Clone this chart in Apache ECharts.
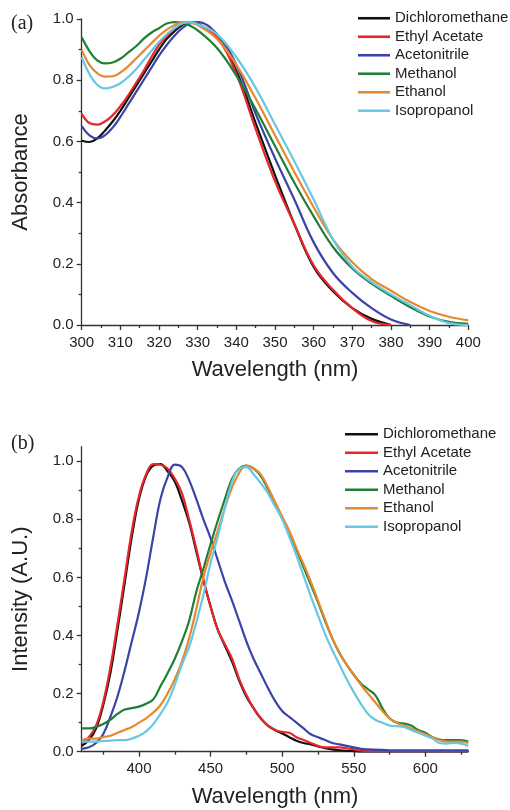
<!DOCTYPE html>
<html>
<head>
<meta charset="utf-8">
<script src="https://cdn.jsdelivr.net/npm/echarts@6/dist/echarts.min.js"></script>
<style>
html,body{margin:0;padding:0;background:#fff;}
#chart{width:510px;height:810px;}
</style>
</head>
<body>
<div id="chart"></div>
<script>
// ---------- Panel (a): absorbance ----------
const absWl = [300,302,304,306,308,310,312,314,316,318,320,322,324,326,328,330,335,340,345,350,355,360,365,370,375,380,385,390,395,400];
const absDCM  = [0.602,0.598,0.61,0.635,0.665,0.70,0.74,0.78,0.82,0.86,0.90,0.935,0.96,0.98,0.99,0.985,0.94,0.83,0.66,0.49,0.33,0.19,0.11,0.055,0.02,0,null,null,null,null];
const absEA   = [0.69,0.66,0.655,0.665,0.685,0.715,0.75,0.79,0.83,0.875,0.915,0.945,0.97,0.985,0.99,0.985,0.94,0.82,0.64,0.47,0.33,0.195,0.115,0.055,0.013,0,null,null,null,null];
const absACN  = [0.65,0.62,0.61,0.62,0.645,0.68,0.72,0.76,0.80,0.84,0.88,0.915,0.945,0.97,0.985,0.99,0.95,0.85,0.69,0.545,0.41,0.27,0.17,0.105,0.055,0.018,0,null,null,null];
const absMeOH = [0.94,0.895,0.865,0.855,0.858,0.87,0.89,0.91,0.935,0.955,0.97,0.985,0.99,0.988,0.978,0.963,0.905,0.815,0.705,0.585,0.465,0.355,0.255,0.185,0.135,0.095,0.058,0.028,0.01,0.004];
const absEtOH = [0.90,0.85,0.823,0.812,0.813,0.825,0.845,0.87,0.895,0.92,0.945,0.965,0.98,0.99,0.988,0.98,0.935,0.85,0.74,0.62,0.50,0.385,0.28,0.205,0.15,0.112,0.075,0.046,0.027,0.015];
const absIPA  = [0.875,0.82,0.785,0.773,0.778,0.79,0.81,0.835,0.865,0.895,0.925,0.95,0.97,0.985,0.99,0.983,0.95,0.875,0.775,0.655,0.535,0.41,0.28,0.19,0.14,0.10,0.065,0.03,0.006,0];

// ---------- Panel (b): emission ----------
const emWl = [360,365,370,375,380,385,390,395,400,405,410,415,420,425,430,435,440,445,450,455,460,465,470,475,480,485,490,495,500,505,510,515,520,525,530,535,540,545,550,555,560,565,570,575,580,585,590,595,600,605,610,615,620,625,630];
const emDCM  = [0.02,0.04,0.08,0.16,0.27,0.42,0.58,0.74,0.87,0.95, 0.985,0.99,0.965,0.93,0.865,0.79,0.69,0.59,0.50,0.42, 0.365,0.31,0.245,0.19,0.15,0.115,0.09,0.075,0.063,0.05, 0.038,0.03,0.025,0.018,0.012,0.008,0.005,0.003,0.002,0, 0,0,0,0,0,0,0,0,0,0, 0,0,0,0,0];
const emEA   = [0.03,0.05,0.09,0.17,0.29,0.44,0.60,0.76,0.88,0.955, 0.99,0.988,0.975,0.94,0.89,0.80,0.70,0.59,0.50,0.42, 0.37,0.32,0.25,0.195,0.15,0.115,0.09,0.075,0.068,0.065, 0.05,0.04,0.03,0.02,0.015,0.015,0.015,0.012,0.008,0.004, 0.002,0.002,0.002,0.002,0.002,0.002,0.002,0.002,0.002,0.002, 0.002,0.002,0.002,0.002,0.002];
const emACN  = [0.01,0.015,0.03,0.06,0.12,0.19,0.28,0.38,0.48,0.60, 0.74,0.87,0.945,0.988,0.98,0.935,0.87,0.80,0.735,0.66, 0.585,0.52,0.45,0.38,0.32,0.27,0.22,0.175,0.14,0.12, 0.10,0.08,0.06,0.05,0.04,0.03,0.025,0.02,0.015,0.01, 0.008,0.007,0.006,0.005,0.005,0.005,0.005,0.005,0.005,0.005, 0.005,0.005,0.005,0.005,0.005];
const emMeOH = [0.08,0.08,0.085,0.095,0.11,0.13,0.145,0.15,0.155,0.165, 0.18,0.225,0.27,0.32,0.38,0.45,0.55,0.63,0.715,0.795, 0.87,0.94,0.975,0.985,0.975,0.95,0.905,0.855,0.805,0.75, 0.695,0.635,0.575,0.515,0.45,0.39,0.34,0.30,0.265,0.235, 0.215,0.195,0.15,0.115,0.10,0.097,0.09,0.075,0.065,0.05, 0.042,0.04,0.04,0.04,0.035];
const emEtOH = [0.04,0.045,0.045,0.05,0.055,0.065,0.075,0.085,0.10,0.115, 0.135,0.16,0.20,0.25,0.31,0.39,0.49,0.60,0.685,0.76, 0.84,0.91,0.96,0.985,0.975,0.955,0.91,0.86,0.81,0.76, 0.70,0.645,0.585,0.52,0.455,0.39,0.34,0.30,0.265,0.23, 0.20,0.17,0.14,0.115,0.10,0.09,0.08,0.07,0.06,0.05, 0.04,0.035,0.035,0.035,0.03];
const emIPA  = [0.035,0.035,0.035,0.037,0.038,0.04,0.04,0.045,0.055,0.07, 0.095,0.13,0.17,0.23,0.30,0.36,0.445,0.54,0.65,0.74, 0.84,0.93,0.975,0.98,0.955,0.925,0.89,0.845,0.80,0.74, 0.675,0.605,0.535,0.47,0.405,0.35,0.30,0.25,0.205,0.165, 0.13,0.11,0.10,0.09,0.088,0.085,0.075,0.065,0.055,0.045, 0.03,0.028,0.03,0.028,0.02];

// ---------- Names, colours, ticks ----------
const solventNames = ['Dichloromethane','Ethyl Acetate','Acetonitrile','Methanol','Ethanol','Isopropanol'];
const solventColors = ['#111111','#e8262a','#3a44a8','#1f7f36','#e8872d','#66c8e2'];
const emMajorX = [400,450,500,550,600];
const emMinorX = [375,425,475,525,575,625];
const emMajorY = [0,0.2,0.4,0.6,0.8,1.0];
const emMinorY = [0.1,0.3,0.5,0.7,0.9];

const FONT = 'Liberation Sans, Arial, sans-serif';
const AX = '#333';
const TXT = '#222';

const absSets = [absDCM, absEA, absACN, absMeOH, absEtOH, absIPA];
const emSets = [emDCM, emEA, emACN, emMeOH, emEtOH, emIPA];

function pairs(xs, ys){ return xs.map((x,i)=>[x, ys[i]]); }

const series = [];
absSets.forEach((ys,i)=>{
  series.push({type:'line', name:solventNames[i], xAxisIndex:0, yAxisIndex:0,
    data:pairs(absWl, ys), smooth:0.4, showSymbol:false, symbol:'none',
    lineStyle:{width:2.2, color:solventColors[i]}, itemStyle:{color:solventColors[i]}, z:2+i});
});
emSets.forEach((ys,i)=>{
  series.push({type:'line', name:solventNames[i], xAxisIndex:1, yAxisIndex:1,
    data:pairs(emWl, ys), smooth:0.4, showSymbol:false, symbol:'none',
    lineStyle:{width:2.2, color:solventColors[i]}, itemStyle:{color:solventColors[i]}, z:2+i});
});

const axisLineStyle = {color:AX, width:1.3};
const labelStyle = {color:TXT, fontSize:15, fontFamily:FONT};
const nameStyle = {color:TXT, fontSize:22, fontFamily:FONT};
const legendIcon = 'path://M0,0H32V2.6H0Z';
const legendText = {color:TXT, fontSize:15, fontFamily:FONT, lineHeight:18.5};

const option = {
  backgroundColor:'#fff',
  animation:false,
  grid:[
    {left:81.7, right:41.7, top:19, height:306},
    {left:81.7, right:41.7, top:446.7, height:305}
  ],
  legend:[
    {data:solventNames, orient:'vertical', left:353, top:4, padding:5, icon:legendIcon, symbolKeepAspect:true,
     itemWidth:32, itemHeight:12, itemGap:0, textStyle:legendText, selectedMode:false},
    {data:solventNames, orient:'vertical', left:340, top:420, padding:5, icon:legendIcon, symbolKeepAspect:true,
     itemWidth:33, itemHeight:12, itemGap:0, textStyle:legendText, selectedMode:false}
  ],
  xAxis:[
    {type:'value', gridIndex:0, min:300, max:400, interval:10,
     name:'Wavelength (nm)', nameLocation:'middle', nameGap:34, nameTextStyle:nameStyle,
     axisLine:{show:true, lineStyle:axisLineStyle}, axisTick:{show:true, length:5, lineStyle:axisLineStyle},
     minorTick:{show:true, splitNumber:2, length:3, lineStyle:axisLineStyle},
     splitLine:{show:false}, axisLabel:Object.assign({margin:10}, labelStyle)},
    {type:'value', gridIndex:1, min:360, max:630,
     name:'Wavelength (nm)', nameLocation:'middle', nameGap:34, nameTextStyle:nameStyle,
     axisLine:{show:true, lineStyle:axisLineStyle},
     axisTick:{show:true, length:5, lineStyle:axisLineStyle, customValues:emMajorX},
     splitLine:{show:false}, axisLabel:Object.assign({margin:10, customValues:emMajorX}, labelStyle)},
    {type:'value', gridIndex:1, min:360, max:630, position:'bottom',
     axisLine:{show:false}, axisTick:{show:true, length:3, lineStyle:axisLineStyle, customValues:emMinorX},
     splitLine:{show:false}, axisLabel:{show:false}}
  ],
  yAxis:[
    {type:'value', gridIndex:0, min:0, max:1, interval:0.2,
     name:'Absorbance', nameLocation:'middle', nameGap:50, nameTextStyle:nameStyle,
     axisLine:{show:true, lineStyle:axisLineStyle}, axisTick:{show:true, length:5, lineStyle:axisLineStyle},
     minorTick:{show:true, splitNumber:2, length:3, lineStyle:axisLineStyle},
     splitLine:{show:false}, axisLabel:Object.assign({margin:8, formatter:v=>v.toFixed(1)}, labelStyle)},
    {type:'value', gridIndex:1, min:0, max:1.05,
     name:'Intensity (A.U.)', nameLocation:'middle', nameGap:50, nameTextStyle:nameStyle,
     axisLine:{show:true, lineStyle:axisLineStyle},
     axisTick:{show:true, length:5, lineStyle:axisLineStyle, customValues:emMajorY},
     splitLine:{show:false}, axisLabel:Object.assign({margin:8, customValues:emMajorY, formatter:v=>v.toFixed(1)}, labelStyle)},
    {type:'value', gridIndex:1, min:0, max:1.05, position:'left',
     axisLine:{show:false}, axisTick:{show:true, length:3, lineStyle:axisLineStyle, customValues:emMinorY},
     splitLine:{show:false}, axisLabel:{show:false}}
  ],
  graphic:[
    {type:'text', left:11, top:14, style:{text:'(a)', fontSize:20, fontFamily:'Liberation Serif, Times New Roman, serif', fill:TXT}},
    {type:'text', left:11, top:434, style:{text:'(b)', fontSize:20, fontFamily:'Liberation Serif, Times New Roman, serif', fill:TXT}}
  ],
  series: series
};

const chart = echarts.init(document.getElementById('chart'), null, {renderer:'canvas'});
chart.setOption(option);
</script>
</body>
</html>
